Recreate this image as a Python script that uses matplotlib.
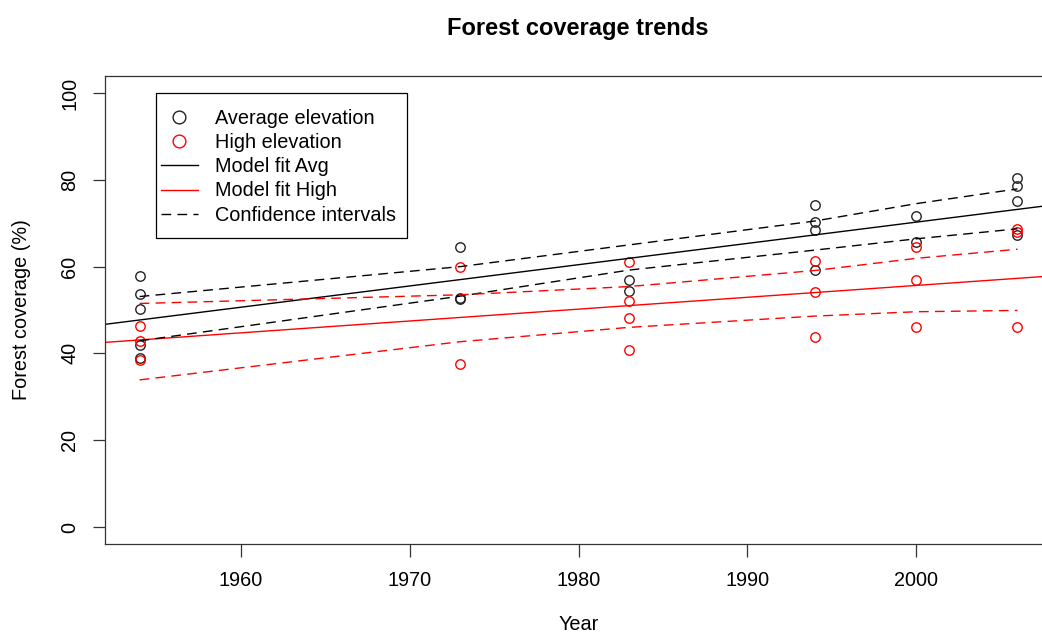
import matplotlib.pyplot as plt
from matplotlib.patches import Rectangle

plt.rcParams['font.family'] = ['Liberation Sans', 'DejaVu Sans']

# scatter data
avg_years = [1954, 1954, 1954, 1954, 1954, 1973, 1973, 1973, 1983, 1983,
             1994, 1994, 1994, 1994, 2000, 2000, 2006, 2006, 2006, 2006]
avg_cover = [57.8, 53.8, 50.2, 41.9, 38.9, 64.4, 52.5, 52.8, 56.9, 54.4,
             74.2, 70.3, 68.4, 59.2, 71.7, 65.6, 80.5, 78.6, 75.2, 67.3]
high_years = [1954, 1954, 1954, 1973, 1973, 1983, 1983, 1983, 1983,
              1994, 1994, 1994, 2000, 2000, 2000, 2006, 2006, 2006]
high_cover = [46.4, 42.9, 38.5, 59.8, 37.6, 61.1, 52.1, 48.2, 40.8,
              61.3, 54.2, 43.8, 64.6, 56.8, 46.1, 68.6, 67.9, 46.1]

# model fits (value at 1954, slope per year)
avg_fit = (47.7, 0.49)
high_fit = (43.1, 0.273)

# confidence intervals at each survey year
ci_years = [1954, 1973, 1983, 1994, 2000, 2006]
avg_upper = [53.1, 60.0, 65.0, 70.5, 74.5, 77.9]
avg_lower = [42.9, 53.2, 59.2, 63.8, 66.4, 68.7]
high_upper = [51.5, 53.5, 55.4, 59.1, 61.9, 64.0]
high_lower = [33.9, 42.7, 46.0, 48.6, 49.6, 49.9]

W, H = 1042, 637
fig = plt.figure(figsize=(W / 100, H / 100), dpi=100)
ax_l, ax_r, ax_t, ax_b = 104.5, 1052.6, 75.6, 544.4
ax = fig.add_axes([ax_l / W, 1 - ax_b / H, (ax_r - ax_l) / W, (ax_b - ax_t) / H])


def to_axes(px, py):
    # image pixel -> axes fraction
    return (px - ax_l) / (ax_r - ax_l), (ax_b - py) / (ax_b - ax_t)


ax.set_xlim(1951.92, 2008.08)
ax.set_ylim(-4, 104)

p_avg, = ax.plot(avg_years, avg_cover, 'o', mfc='none', mec='#222222', ms=6.8, mew=1.0,
                 linestyle='none', label='Average elevation')
p_high, = ax.plot(high_years, high_cover, 'o', mfc='none', mec='red', ms=6.8, mew=1.0,
                  linestyle='none', label='High elevation')

l_avg = ax.axline((1954, avg_fit[0]), slope=avg_fit[1], color='black', lw=1.0, label='Model fit Avg')
l_high = ax.axline((1954, high_fit[0]), slope=high_fit[1], color='red', lw=1.0, label='Model fit High')

dash = (7, 4.5)
l_ci, = ax.plot(ci_years, avg_upper, color='black', lw=1.0, dashes=dash, label='Confidence intervals')
ax.plot(ci_years, avg_lower, color='black', lw=1.0, dashes=dash)
ax.plot(ci_years, high_upper, color='red', lw=1.0, dashes=dash)
ax.plot(ci_years, high_lower, color='red', lw=1.0, dashes=dash)

fs = 14.3
ax.set_xticks([1960, 1970, 1980, 1990, 2000])
ax.set_yticks([0, 20, 40, 60, 80, 100])
ax.tick_params(direction='out', length=9, width=0.9, color='#333333', labelsize=fs)
ax.tick_params(axis='x', pad=10.5)
ax.tick_params(axis='y', pad=9)
for lab in ax.get_yticklabels():
    lab.set_rotation(90)
    lab.set_va('center')
for sp in ax.spines.values():
    sp.set_linewidth(0.9)
    sp.set_color('#333333')

ax.set_xlabel('Year', fontsize=fs, labelpad=18)
ax.set_ylabel('Forest coverage (%)', fontsize=fs, labelpad=21)
fig.text(578 / W, 1 - 28 / H, 'Forest coverage trends', fontsize=17, fontweight='bold',
         ha='center', va='center')

# legend box drawn separately so it can match the reference spacing
bx0, by0 = to_axes(156, 238)
bx1, by1 = to_axes(407, 93)
ax.add_patch(Rectangle((bx0, by0), bx1 - bx0, by1 - by0, transform=ax.transAxes,
                       fill=True, facecolor='white', edgecolor='black', lw=0.9, zorder=4))
lx, ly = to_axes(161, 109)
leg = ax.legend(handles=[p_avg, p_high, l_avg, l_high, l_ci], loc='upper left',
                bbox_to_anchor=(lx, ly), borderaxespad=0, borderpad=0, fontsize=fs,
                frameon=False, labelspacing=0.26, handlelength=1.85, handletextpad=0.85,
                markerscale=1.35)
leg.set_zorder(5)

fig.savefig('out.png', dpi=100)
